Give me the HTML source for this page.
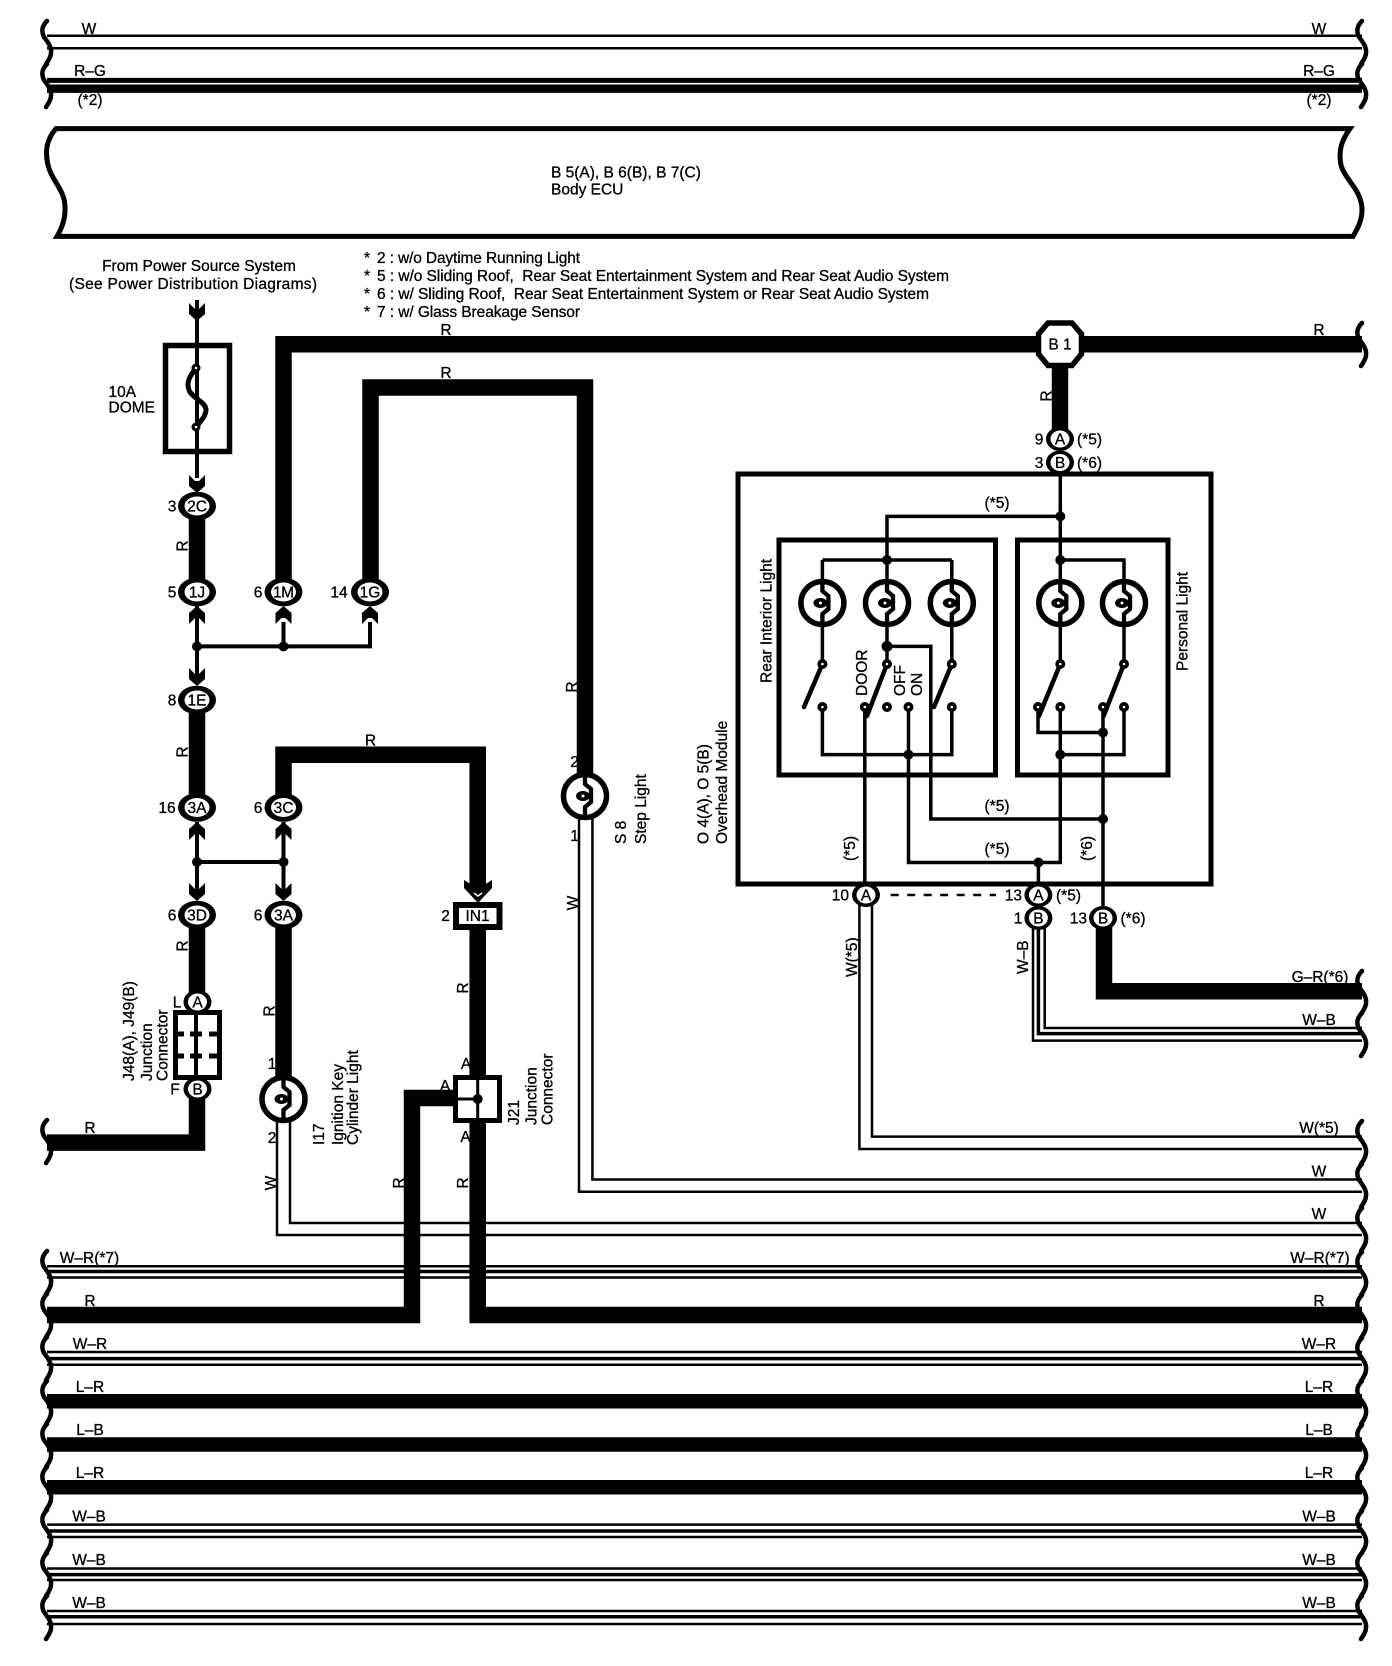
<!DOCTYPE html>
<html lang="en"><head><meta charset="utf-8"><title>Wiring diagram</title>
<style>
html,body{margin:0;padding:0;background:#fff;width:1392px;height:1666px;overflow:hidden}
svg{display:block}
text{font-family:"Liberation Sans",sans-serif;font-size:15.5px;fill:#000;stroke:#000;stroke-width:.3}
.m{text-anchor:middle}.e{text-anchor:end}
.w{fill:none;stroke:#000;stroke-width:2.5}
.n{fill:none;stroke:#000;stroke-width:4}
.k{fill:none;stroke:#000;stroke-width:16.5;stroke-linejoin:miter}
.br{fill:none;stroke:#000;stroke-width:4.5;stroke-linecap:round}
</style></head><body>
<svg xmlns="http://www.w3.org/2000/svg" width="1392" height="1666" viewBox="0 0 1392 1666">
<defs>
<path id="b" class="br" d="M47,0C42,5 41,10 44,16C47,20 52,26 51,32C51,36 48,40 46,43"/>
<polygon id="cd" points="-8,-18 -2,-12 2,-12 8,-18 8,-7 0,0 -8,-7"/>
<g id="lamp"><ellipse rx="21.5" ry="21.5" fill="#fff" stroke="#000" stroke-width="5.5"/><path d="M0,-23V-12L6,-7V6L0,11V23" fill="none" stroke="#000" stroke-width="4.3"/><ellipse cx="-2" rx="7" ry="5"/><circle cx="-2" r="1.5" fill="#fff"/></g>
<g id="c"><ellipse rx="19" ry="14.3"/><ellipse rx="12.5" ry="9.5" fill="#fff"/></g>
<g id="s"><ellipse rx="14" ry="12"/><ellipse rx="9.5" ry="8.5" fill="#fff"/></g>
<g id="d"><circle r="5"/><circle r="1.3" fill="#fff"/></g>
</defs>

<!-- thin bus wires -->
<g class="w">
<path d="M47,35.7H1362M47,48.2H1362"/>
<path d="M47,1266.3H1362M47,1277.5H1362M47,1352H1362M47,1364.7H1362M47,1524.6H1362M47,1537H1362M47,1568.5H1362M47,1580H1362M47,1611H1362M47,1624H1362"/>
<path d="M290,1120V1223H1362M277,1120V1235H1362"/>
<path d="M592.4,818V1179.5H1362M579,818V1191.8H1362"/>
<path d="M872,905V1136.6H1362M859.4,905V1149H1362"/>
<path d="M1044.7,928V1028H1362M1033,928V1040.6H1362"/>
</g>
<path d="M47,1271.5H1362M47,1358.6H1362M47,1531H1362M47,1574.6H1362M47,1616.7H1362" fill="none" stroke="#000" stroke-width="3.5"/>
<path d="M1038.4,928V1033.6H1362" fill="none" stroke="#000" stroke-width="3.5"/>

<!-- thick bus wires -->
<path d="M47,80.4H1362" fill="none" stroke="#000" stroke-width="5"/>
<path d="M47,88.7H1362" fill="none" stroke="#000" stroke-width="8.3"/>
<path d="M47,1401.2H1362M47,1444.5H1362M47,1487.3H1362" fill="none" stroke="#000" stroke-width="14.5"/>

<!-- Body ECU -->
<path d="M1350,128.6H56C46,140 45,152 48,165C52,182 66,190 65,210C65,220 62,228 57,236.4H1353C1358,228 1362,220 1362,210C1362,190 1345,180 1341,165C1338,150 1342,140 1350,128.6Z" fill="#fff" stroke="#000" stroke-width="5"/>
<text x="551" y="177.5">B 5(A), B 6(B), B 7(C)</text>
<text x="551" y="194.6">Body ECU</text>

<!-- thick harness -->
<path class="k" d="M283.5,592V344.3H1362"/>
<path class="k" d="M370.5,592V387.5H585V775"/>
<path class="k" d="M197,506V592M197,700V808M197,915V1002"/>
<path class="k" d="M197,1089V1142.6H47"/>
<path class="k" d="M283.5,808V754.7H477.7V887"/>
<path class="k" d="M283.5,915V1080"/>
<path class="k" d="M477.7,925V1315H1362"/>
<path class="k" d="M454,1098H412V1315H47"/>
<path class="k" d="M1060,360V440"/>
<path class="k" d="M1104,925V991.3H1362"/>

<!-- thin left wires -->
<g class="n">
<path d="M197,300V478M197,606V682M197,822V898M283.5,622V646.4M283.5,822V898"/>
<path d="M197,646.4H370V622M197,862H283.5"/>
</g>
<g>
<use href="#cd" transform="translate(197,321)"/>
<use href="#cd" transform="translate(197,493)"/>
<use href="#cd" transform="translate(197,606) rotate(180)"/>
<use href="#cd" transform="translate(283.5,606) rotate(180)"/>
<use href="#cd" transform="translate(370,606) rotate(180)"/>
<use href="#cd" transform="translate(197,686)"/>
<use href="#cd" transform="translate(197,822) rotate(180)"/>
<use href="#cd" transform="translate(283.5,822) rotate(180)"/>
<use href="#cd" transform="translate(197,901)"/>
<use href="#cd" transform="translate(283.5,901)"/>
<circle cx="197" cy="646.4" r="5"/><circle cx="283.5" cy="646.4" r="5"/>
<circle cx="197" cy="862" r="5"/><circle cx="283.5" cy="862" r="5"/>
</g>

<!-- fuse -->
<rect x="165.5" y="345.5" width="64" height="106" fill="none" stroke="#000" stroke-width="5.5"/>
<path d="M196,368C190,376 186,382 189,390C192,398 206,402 206,410C206,416 200,422 196,427" fill="none" stroke="#000" stroke-width="5"/>
<circle cx="196" cy="368" r="4.5"/><circle cx="196" cy="368" r="1.3" fill="#fff"/>
<circle cx="196" cy="427" r="4.5"/><circle cx="196" cy="427" r="1.3" fill="#fff"/>
<text x="108.5" y="397">10A</text><text x="108.5" y="412.5">DOME</text>
<text class="m" x="199" y="271">From Power Source System</text>
<text x="69" y="289" textLength="248">(See Power Distribution Diagrams)</text>

<!-- notes -->
<text x="364" y="263">*</text><text x="364" y="281">*</text><text x="364" y="299">*</text><text x="364" y="317">*</text>
<text x="377" y="263" textLength="203">2 : w/o Daytime Running Light</text>
<text x="377" y="281" textLength="572">5 : w/o Sliding Roof,&#160; Rear Seat Entertainment System and Rear Seat Audio System</text>
<text x="377" y="299" textLength="552">6 : w/ Sliding Roof,&#160; Rear Seat Entertainment System or Rear Seat Audio System</text>
<text x="377" y="317" textLength="203">7 : w/ Glass Breakage Sensor</text>

<!-- left connectors -->
<use href="#c" x="197" y="506"/><text class="m" x="197" y="511.5">2C</text><text class="m" x="172" y="511.5">3</text>
<use href="#c" x="197" y="592"/><text class="m" x="197" y="597.5">1J</text><text class="m" x="172" y="597.5">5</text>
<use href="#c" x="283.5" y="592"/><text class="m" x="283.5" y="597.5" textLength="21">1M</text><text class="m" x="258" y="597.5">6</text>
<use href="#c" x="370" y="592"/><text class="m" x="370" y="597.5">1G</text><text class="m" x="339" y="597.5">14</text>
<use href="#c" x="197" y="700"/><text class="m" x="197" y="705.5">1E</text><text class="m" x="172" y="705.5">8</text>
<use href="#c" x="197" y="807.5"/><text class="m" x="197" y="813">3A</text><text class="m" x="167" y="813">16</text>
<use href="#c" x="283.5" y="807.5"/><text class="m" x="283.5" y="813">3C</text><text class="m" x="258" y="813">6</text>
<use href="#c" x="197" y="915"/><text class="m" x="197" y="920.5">3D</text><text class="m" x="172" y="920.5">6</text>
<use href="#c" x="283.5" y="915"/><text class="m" x="283.5" y="920.5">3A</text><text class="m" x="258" y="920.5">6</text>

<!-- J48 -->
<rect x="175.5" y="1012.5" width="44" height="65" fill="#fff" stroke="#000" stroke-width="5"/>
<path d="M196,1012V1078" class="n"/>
<path d="M175,1034H184M190,1034H202M209,1034H220M175,1056H184M190,1056H202M209,1056H220" fill="none" stroke="#000" stroke-width="5"/>
<use href="#s" x="197.5" y="1002"/><text class="m" x="197.5" y="1007.5">A</text><text class="m" x="177" y="1007.5">L</text>
<use href="#s" x="197.5" y="1089"/><text class="m" x="197.5" y="1094.5">B</text><text class="m" x="175" y="1094.5">F</text>
<text transform="translate(134,1081) rotate(-90)">J48(A), J49(B)</text>
<text transform="translate(152,1081) rotate(-90)">Junction</text>
<text transform="translate(167.5,1081) rotate(-90)">Connector</text>

<!-- IN1 -->
<polygon points="464,880 472,885 484,885 492,880 492,888 478,903 464,888"/>
<path d="M474,893L478,896L482,893" fill="none" stroke="#fff" stroke-width="1.5"/>
<rect x="456" y="905" width="43.5" height="22" fill="#fff" stroke="#000" stroke-width="6"/>
<text class="m" x="477.5" y="921">IN1</text><text class="m" x="445.5" y="921">2</text>

<!-- J21 -->
<rect x="455.5" y="1077.5" width="44" height="43" fill="#fff" stroke="#000" stroke-width="5"/>
<path d="M477.7,1076V1122M456,1099H478" fill="none" stroke="#000" stroke-width="3"/>
<circle cx="477.7" cy="1099" r="5"/>
<text class="m" x="466" y="1069">A</text><text class="m" x="445" y="1091">A</text><text class="m" x="465.6" y="1142">A</text>
<text transform="translate(519,1125) rotate(-90)">J21</text>
<text transform="translate(536.7,1125) rotate(-90)">Junction</text>
<text transform="translate(552.7,1125) rotate(-90)">Connector</text>

<!-- lamps I17, S8 -->
<use href="#lamp" x="283.5" y="1099"/>
<text class="m" x="272" y="1069">1</text><text class="m" x="272" y="1143">2</text>
<text transform="translate(324,1145) rotate(-90)">I17</text>
<text transform="translate(343,1145) rotate(-90)">Ignition Key</text>
<text transform="translate(358,1145) rotate(-90)">Cylinder Light</text>
<use href="#lamp" x="585" y="796"/>
<text class="m" x="574.5" y="767">2</text><text class="m" x="574.5" y="841">1</text>
<text transform="translate(626,844) rotate(-90)">S 8</text>
<text transform="translate(646,844) rotate(-90)">Step Light</text>

<!-- Overhead module -->
<rect x="738" y="474" width="473" height="410" fill="none" stroke="#000" stroke-width="5"/>
<rect x="779" y="540" width="216.5" height="235" fill="none" stroke="#000" stroke-width="5"/>
<rect x="1017.5" y="540" width="150.5" height="235" fill="none" stroke="#000" stroke-width="5"/>
<text transform="translate(708.5,844) rotate(-90)">O 4(A), O 5(B)</text>
<text transform="translate(727,844) rotate(-90)">Overhead Module</text>
<text transform="translate(771.5,683) rotate(-90)">Rear Interior Light</text>
<text transform="translate(1187.5,671) rotate(-90)">Personal Light</text>
<text transform="translate(867,696) rotate(-90)">DOOR</text>
<text transform="translate(905,696) rotate(-90)">OFF</text>
<text transform="translate(922,696) rotate(-90)">ON</text>
<text transform="translate(855,861) rotate(-90)">(*5)</text>
<text transform="translate(1092,861) rotate(-90)">(*6)</text>
<text class="m" x="997" y="508">(*5)</text>
<text class="m" x="997" y="811">(*5)</text>
<text class="m" x="997" y="854">(*5)</text>

<g fill="none" stroke="#000" stroke-width="3.5">
<path d="M1060.3,470V664M1060.3,516.4H887V664"/>
<path d="M822.4,560H951.8M822.4,560V664M951.8,560V664M1060.3,560H1124V664"/>
<path d="M822.4,707V754.6H951.8V707"/>
<path d="M864.8,707V885"/>
<path d="M908.5,707V862.5H1060.3V707"/>
<path d="M887,646.4H930.8V819H1103"/>
<path d="M1103,707V906"/>
<path d="M1103,732.5H1038V707"/>
<path d="M1060.3,754.6H1124V707"/>
<path d="M1038.4,862.5V885"/>
</g>
<g fill="none" stroke="#000" stroke-width="4.5" stroke-linecap="round">
<path d="M822.4,664L804,707M887,664L867,716M951.8,664L934,707M1060.3,664L1039,716M1124,664L1103.6,716"/>
</g>
<use href="#lamp" x="822.4" y="603"/><use href="#lamp" x="887" y="603"/><use href="#lamp" x="951.8" y="603"/>
<use href="#lamp" x="1060.3" y="603"/><use href="#lamp" x="1124" y="603"/>
<use href="#d" x="822.4" y="664"/><use href="#d" x="887" y="664"/><use href="#d" x="951.8" y="664"/><use href="#d" x="1060.3" y="664"/><use href="#d" x="1124" y="664"/>
<use href="#d" x="822.4" y="707"/><use href="#d" x="864.8" y="707"/><use href="#d" x="887" y="707"/><use href="#d" x="908.5" y="707"/><use href="#d" x="951.8" y="707"/>
<use href="#d" x="1038" y="707"/><use href="#d" x="1060.3" y="707"/><use href="#d" x="1103" y="707"/><use href="#d" x="1124" y="707"/>
<circle cx="1060.3" cy="516.4" r="5"/><circle cx="887" cy="560" r="5"/><circle cx="1060.3" cy="560" r="5"/><circle cx="887" cy="646.4" r="5.5"/>
<circle cx="908.5" cy="754.6" r="5"/><circle cx="1060.3" cy="754.6" r="5"/><circle cx="1103" cy="732.5" r="5"/><circle cx="1103" cy="819" r="5"/><circle cx="1038.4" cy="862.5" r="5"/>

<!-- module connectors -->
<polygon points="1048,323 1072,323 1081.5,334 1081.5,354 1072,365.5 1048,365.5 1038.5,354 1038.5,334" fill="#fff" stroke="#000" stroke-width="5.5"/>
<text class="m" x="1060" y="349.5">B 1</text>
<use href="#s" x="1060" y="439"/><text class="m" x="1060" y="444.5">A</text><text class="m" x="1039" y="444.5">9</text><text x="1077" y="444.5">(*5)</text>
<use href="#s" x="1060" y="462.5"/><text class="m" x="1060" y="468">B</text><text class="m" x="1039" y="468">3</text><text x="1077" y="468">(*6)</text>
<use href="#s" x="866" y="895"/><text class="m" x="866" y="900.5">A</text><text class="e" x="849" y="900.5">10</text>
<path d="M890.7,895H996" fill="none" stroke="#000" stroke-width="2.5" stroke-dasharray="8 8.5"/>
<use href="#s" x="1038.4" y="895"/><text class="m" x="1038.4" y="900.5">A</text><text class="e" x="1022" y="900.5">13</text><text x="1056" y="900.5">(*5)</text>
<use href="#s" x="1038.4" y="918"/><text class="m" x="1038.4" y="923.5">B</text><text class="m" x="1018" y="923.5">1</text>
<use href="#s" x="1103" y="918"/><text class="m" x="1103" y="923.5">B</text><text class="e" x="1087" y="923.5">13</text><text x="1120.5" y="923.5">(*6)</text>

<!-- rotated wire labels -->
<text class="m" transform="translate(187.5,546) rotate(-90)">R</text>
<text class="m" transform="translate(187.5,752) rotate(-90)">R</text>
<text class="m" transform="translate(187.5,946) rotate(-90)">R</text>
<text class="m" transform="translate(274.5,1011) rotate(-90)">R</text>
<text class="m" transform="translate(468,988) rotate(-90)">R</text>
<text class="m" transform="translate(404,1183) rotate(-90)">R</text>
<text class="m" transform="translate(468,1183) rotate(-90)">R</text>
<text class="m" transform="translate(276,1183) rotate(-90)">W</text>
<text class="m" transform="translate(577,687) rotate(-90)">R</text>
<text class="m" transform="translate(578,903) rotate(-90)">W</text>
<text class="m" transform="translate(1051.4,396) rotate(-90)">R</text>
<text transform="translate(857,977) rotate(-90)">W(*5)</text>
<text transform="translate(1028,974) rotate(-90)">W–B</text>

<!-- horizontal wire labels -->
<text class="m" x="446" y="335">R</text><text class="m" x="446" y="378">R</text>
<text class="m" x="370.5" y="745.7">R</text>
<text class="m" x="1319" y="335">R</text>
<text class="m" x="90" y="1133">R</text>
<g text-anchor="middle">
<text x="89" y="34">W</text><text x="90" y="76">R–G</text><text x="90" y="105">(*2)</text>
<text x="1319" y="34">W</text><text x="1319" y="76">R–G</text><text x="1319" y="105">(*2)</text>
<text x="1320" y="982">G–R(*6)</text><text x="1319" y="1025">W–B</text>
<text x="1319" y="1133">W(*5)</text><text x="1319" y="1176.6">W</text><text x="1319" y="1219">W</text>
<text x="89.5" y="1263">W–R(*7)</text><text x="1320" y="1263">W–R(*7)</text>
<text x="90" y="1306">R</text><text x="1319" y="1306">R</text>
<text x="90" y="1349">W–R</text><text x="1319" y="1349">W–R</text>
<text x="90" y="1392">L–R</text><text x="1319" y="1392">L–R</text>
<text x="90" y="1435">L–B</text><text x="1319" y="1435">L–B</text>
<text x="90" y="1478">L–R</text><text x="1319" y="1478">L–R</text>
<text x="89" y="1521.5">W–B</text><text x="1319" y="1521.5">W–B</text>
<text x="89" y="1565">W–B</text><text x="1319" y="1565">W–B</text>
<text x="89" y="1608">W–B</text><text x="1319" y="1608">W–B</text>
</g>

<!-- break braces left -->
<g>
<use href="#b" y="21"/><use href="#b" y="64"/><use href="#b" y="1120"/>
<use href="#b" y="1251"/><use href="#b" y="1294"/><use href="#b" y="1337"/><use href="#b" y="1381"/><use href="#b" y="1424"/><use href="#b" y="1467"/><use href="#b" y="1510"/><use href="#b" y="1553"/><use href="#b" y="1596"/>
</g>
<!-- break braces right -->
<g transform="translate(1315,0)">
<use href="#b" y="21"/><use href="#b" y="64"/><use href="#b" y="323"/><use href="#b" y="971"/><use href="#b" y="1013"/>
<use href="#b" y="1121"/><use href="#b" y="1164"/><use href="#b" y="1208"/><use href="#b" y="1252"/><use href="#b" y="1295"/><use href="#b" y="1338"/><use href="#b" y="1381"/><use href="#b" y="1425"/><use href="#b" y="1468"/><use href="#b" y="1511"/><use href="#b" y="1553"/><use href="#b" y="1596"/>
</g>
</svg>
</body></html>
